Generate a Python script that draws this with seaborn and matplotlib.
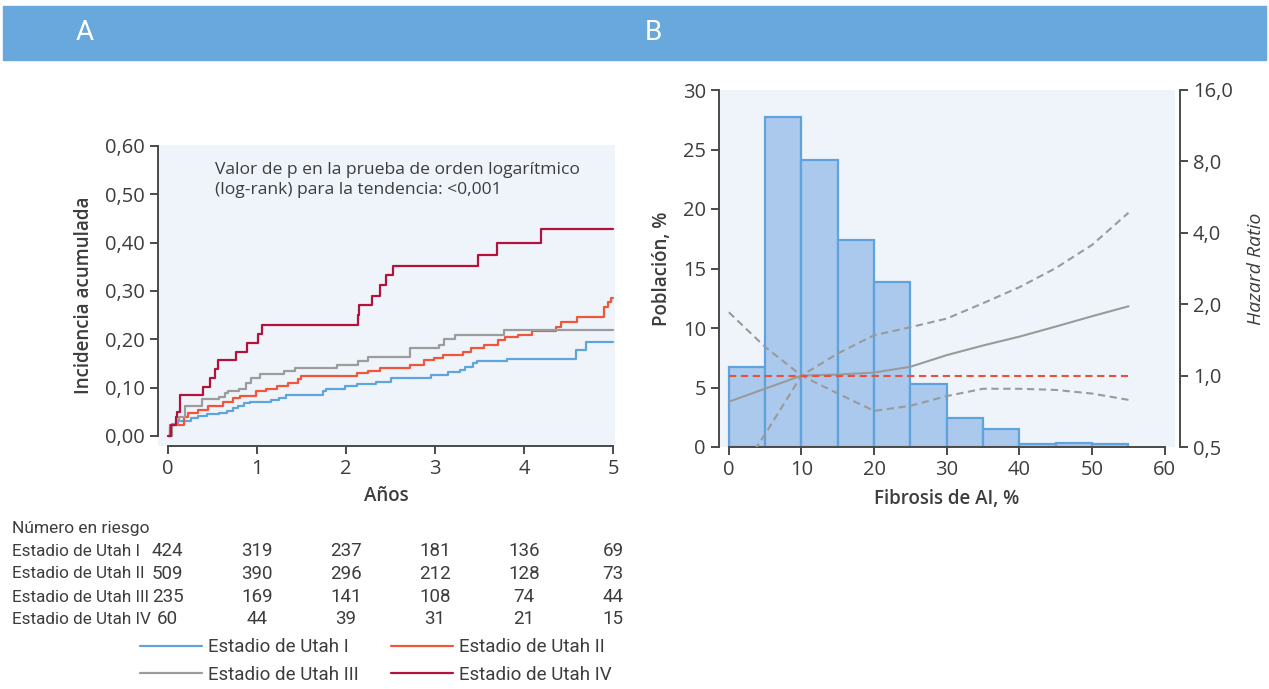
import numpy as np
import pandas as pd
import matplotlib
matplotlib.use("Agg")
import matplotlib.pyplot as plt
import matplotlib.transforms as mtransforms
from matplotlib.patches import Rectangle
import seaborn as sns

# ---- Panel A: incidencia acumulada (Kaplan-Meier, lectura aproximada) ----
t_utah1 = [0, 0.02, 0.05, 0.12, 0.26, 0.34, 0.44, 0.57, 0.67, 0.73, 0.79, 0.86, 0.92, 1.16, 1.25,
           1.33, 1.74, 1.78, 1.99, 2.12, 2.34, 2.51, 2.96, 3.15, 3.28, 3.34, 3.43, 3.47, 3.81,
           4.58, 4.69, 5.0]
v_utah1 = [0, 0.016, 0.023, 0.030, 0.037, 0.042, 0.045, 0.048, 0.052, 0.057, 0.062, 0.067, 0.071,
           0.074, 0.078, 0.085, 0.092, 0.098, 0.103, 0.107, 0.112, 0.119, 0.126, 0.132, 0.137,
           0.143, 0.150, 0.155, 0.160, 0.178, 0.195, 0.195]

t_utah2 = [0, 0.03, 0.18, 0.23, 0.34, 0.45, 0.62, 0.73, 0.81, 0.99, 1.10, 1.23, 1.35, 1.46, 1.50,
           2.12, 2.25, 2.38, 2.72, 2.88, 2.99, 3.09, 3.31, 3.40, 3.55, 3.71, 3.78, 3.93, 4.09,
           4.36, 4.41, 4.59, 4.90, 4.94, 4.98, 5.0]
v_utah2 = [0, 0.023, 0.040, 0.048, 0.054, 0.062, 0.071, 0.078, 0.083, 0.092, 0.098, 0.104, 0.109,
           0.117, 0.124, 0.130, 0.135, 0.140, 0.147, 0.157, 0.161, 0.168, 0.174, 0.181, 0.188,
           0.198, 0.204, 0.208, 0.217, 0.226, 0.236, 0.246, 0.267, 0.277, 0.285, 0.285]

t_utah3 = [0, 0.05, 0.10, 0.13, 0.19, 0.38, 0.58, 0.64, 0.68, 0.80, 0.88, 0.93, 1.03, 1.31, 1.43,
           1.90, 2.13, 2.25, 2.72, 3.04, 3.10, 3.22, 3.77, 5.0]
v_utah3 = [0, 0.025, 0.033, 0.040, 0.062, 0.076, 0.081, 0.088, 0.093, 0.098, 0.110, 0.119, 0.128,
           0.135, 0.140, 0.147, 0.154, 0.164, 0.181, 0.188, 0.200, 0.208, 0.219, 0.219]

t_utah4 = [0, 0.04, 0.09, 0.10, 0.14, 0.40, 0.47, 0.53, 0.56, 0.77, 0.89, 1.01, 1.06, 2.13, 2.15,
           2.29, 2.38, 2.45, 2.53, 3.48, 3.69, 4.19, 5.0]
v_utah4 = [0, 0.023, 0.040, 0.050, 0.085, 0.102, 0.119, 0.138, 0.156, 0.174, 0.192, 0.211, 0.230,
           0.250, 0.271, 0.290, 0.312, 0.332, 0.352, 0.374, 0.399, 0.428, 0.428]

stage_labels = ["Estadio de Utah I", "Estadio de Utah II", "Estadio de Utah III", "Estadio de Utah IV"]
stage_colors = ["#5fa5dc", "#f0573a", "#9c9c9c", "#b3123d"]

risk_years = [0, 1, 2, 3, 4, 5]
risk_utah1 = [424, 319, 237, 181, 136, 69]
risk_utah2 = [509, 390, 296, 212, 128, 73]
risk_utah3 = [235, 169, 141, 108, 74, 44]
risk_utah4 = [60, 44, 39, 31, 21, 15]

a_yticks = [0, 0.1, 0.2, 0.3, 0.4, 0.5, 0.6]
a_yticklabels = ["0,00", "0,10", "0,20", "0,30", "0,40", "0,50", "0,60"]

# ---- Panel B: distribucion de fibrosis y hazard ratio ----
fib_edges = [0, 5, 10, 15, 20, 25, 30, 35, 40, 45, 50, 55]
fib_pct = [6.7, 27.7, 24.1, 17.4, 13.9, 5.3, 2.45, 1.55, 0.25, 0.33, 0.27]

hr_x = [0, 5, 10, 15, 20, 25, 30, 35, 40, 45, 50, 55]
hr_est = [0.776, 0.881, 1.0, 1.01, 1.03, 1.09, 1.22, 1.34, 1.46, 1.61, 1.78, 1.96]
hr_upper = [0.33, 0.567, 1.0, 1.24, 1.48, 1.60, 1.74, 2.02, 2.36, 2.84, 3.56, 4.86]
hr_lower = [1.85, 1.32, 1.0, 0.84, 0.71, 0.746, 0.82, 0.88, 0.88, 0.87, 0.84, 0.79]
hr_ref = [1.0, 1.0]
hr_ref_x = [0, 55]

b_xticks = [0, 10, 20, 30, 40, 50, 60]
b_yticks = [0, 5, 10, 15, 20, 25, 30]
hr_ticks = [0.5, 1, 2, 4, 8, 16]
hr_ticklabels = ["0,5", "1,0", "2,0", "4,0", "8,0", "16,0"]

# ---------------------------------------------------------------------------
sns.set_theme(style="ticks")
plt.rcParams["font.family"] = ["Open Sans", "DejaVu Sans"]
txt = "#3d3d3d"
spine_c = "#4a4a4a"
bg = "#eff4fb"
narrow = ["Roboto", "DejaVu Sans"]
tick_fs = 14.5
lab_fs = 13.5

W, H = 1269, 689
fig = plt.figure(figsize=(W / 100, H / 100), dpi=100)


def fx(px):
    return px / W


def fy(py):
    return 1 - py / H


# banda de cabecera
fig.patches.append(Rectangle((fx(3), fy(60)), fx(1263), 54 / H, transform=fig.transFigure,
                             color="#68a8dc", zorder=0))
fig.text(fx(85), fy(33), "A", color="white", fontsize=20, ha="center", va="center",
         family=narrow)
fig.text(fx(653), fy(33), "B", color="white", fontsize=20, ha="center", va="center",
         family=narrow)


def style_axis(ax):
    for s in ["left", "bottom", "right"]:
        ax.spines[s].set_color(spine_c)
        ax.spines[s].set_linewidth(1.4)
    ax.tick_params(colors=spine_c, labelcolor=txt, length=6, width=1.4, labelsize=tick_fs)


# ---- Panel A ----
axA = fig.add_axes([fx(158), fy(446), fx(615 - 158), (446 - 145) / H])
axA.set_facecolor(bg)
curves = [(t_utah1, v_utah1), (t_utah2, v_utah2), (t_utah3, v_utah3), (t_utah4, v_utah4)]
for (tt, vv), lab, col in zip(curves, stage_labels, stage_colors):
    sns.lineplot(x=tt, y=vv, drawstyle="steps-post", color=col, lw=1.6, label=lab, ax=axA,
                 estimator=None, sort=False)
axA.get_legend().remove()
axA.set_xlim(-0.11, 5.02)
axA.set_ylim(-0.021, 0.602)
axA.set_xticks(risk_years)
axA.set_yticks(a_yticks)
axA.set_yticklabels(a_yticklabels)
sns.despine(ax=axA)
axA.spines["left"].set_bounds(0, 0.6)
axA.spines["bottom"].set_bounds(0, 5)
style_axis(axA)
axA.set_xlabel("Años", fontsize=lab_fs, fontweight="semibold", color=txt, labelpad=5)
axA.set_ylabel("Incidencia acumulada", fontsize=lab_fs, fontweight="semibold", color=txt, labelpad=8)
axA.text(0.53, 0.567, "Valor de p en la prueba de orden logarítmico\n(log-rank) para la tendencia: <0,001",
         fontsize=12.6, color=txt, ha="left", va="top", linespacing=1.3)

# tabla de numero en riesgo
blend = mtransforms.blended_transform_factory(axA.transData, fig.transFigure)
fig.text(fx(12), fy(528), "Número en riesgo", fontsize=12.5, color=txt, va="center", family=narrow)
rows = [risk_utah1, risk_utah2, risk_utah3, risk_utah4]
row_y = [551, 574, 597, 619]
for lab, vals, ry in zip(stage_labels, rows, row_y):
    fig.text(fx(12), fy(ry), lab, fontsize=12.3, color=txt, va="center", family=narrow)
    for yr, n in zip(risk_years, vals):
        fig.text(yr, fy(ry), str(n), transform=blend, fontsize=13.5, color=txt,
                 ha="center", va="center", family=narrow)

handles = axA.get_lines()[:4]
order = [0, 2, 1, 3]
fig.legend([handles[i] for i in order], [stage_labels[i] for i in order], ncol=2,
           loc="center", bbox_to_anchor=(fx(376), fy(661)), frameon=False,
           prop={"family": narrow, "size": 13.5},
           handlelength=3.3, handletextpad=0.35, columnspacing=1.7, labelspacing=0.5,
           borderpad=0, labelcolor=txt)

# ---- Panel B ----
axB = fig.add_axes([fx(719), fy(447), fx(1175 - 719), (447 - 90) / H])
axB.set_facecolor(bg)
sns.histplot(x=np.array(fib_edges[:-1]) + 2.5, weights=fib_pct, bins=fib_edges, ax=axB,
             color="#abc9ec", edgecolor="#5fa3dc", linewidth=1.6, alpha=1)
axB.set_xlim(-1.35, 61.4)
axB.set_ylim(0, 30)
axB.set_xticks(b_xticks)
axB.set_yticks(b_yticks)
sns.despine(ax=axB)
axB.spines["left"].set_bounds(0, 30)
axB.spines["bottom"].set_bounds(0, 60)
style_axis(axB)
axB.set_xlabel("Fibrosis de AI, %", fontsize=lab_fs, fontweight="semibold", color=txt, labelpad=6)
axB.set_ylabel("Población, %", fontsize=lab_fs, fontweight="semibold", color=txt, labelpad=8)

axR = axB.twinx()
axR.set_yscale("log", base=2)
dash = (3.5, 2.2)
sns.lineplot(x=hr_x, y=hr_upper, color="#9a9a9a", lw=1.5, ax=axR).lines[-1].set_dashes(dash)
sns.lineplot(x=hr_x, y=hr_lower, color="#9a9a9a", lw=1.5, ax=axR).lines[-1].set_dashes(dash)
sns.lineplot(x=hr_x, y=hr_est, color="#9a9a9a", lw=1.5, ax=axR)
sns.lineplot(x=hr_ref_x, y=hr_ref, color="#e8523a", lw=1.5, ax=axR).lines[-1].set_dashes(dash)
axR.set_ylim(0.5, 16)
axR.set_yticks(hr_ticks)
axR.set_yticklabels(hr_ticklabels)
axR.yaxis.set_minor_locator(matplotlib.ticker.NullLocator())
for s in ["top", "left", "bottom"]:
    axR.spines[s].set_visible(False)
axR.spines["right"].set_position(("outward", 3.5))
style_axis(axR)
axR.set_ylabel("Hazard Ratio", fontsize=14, fontstyle="italic", color=txt, labelpad=10)

fig.savefig("out.png", dpi=100)
